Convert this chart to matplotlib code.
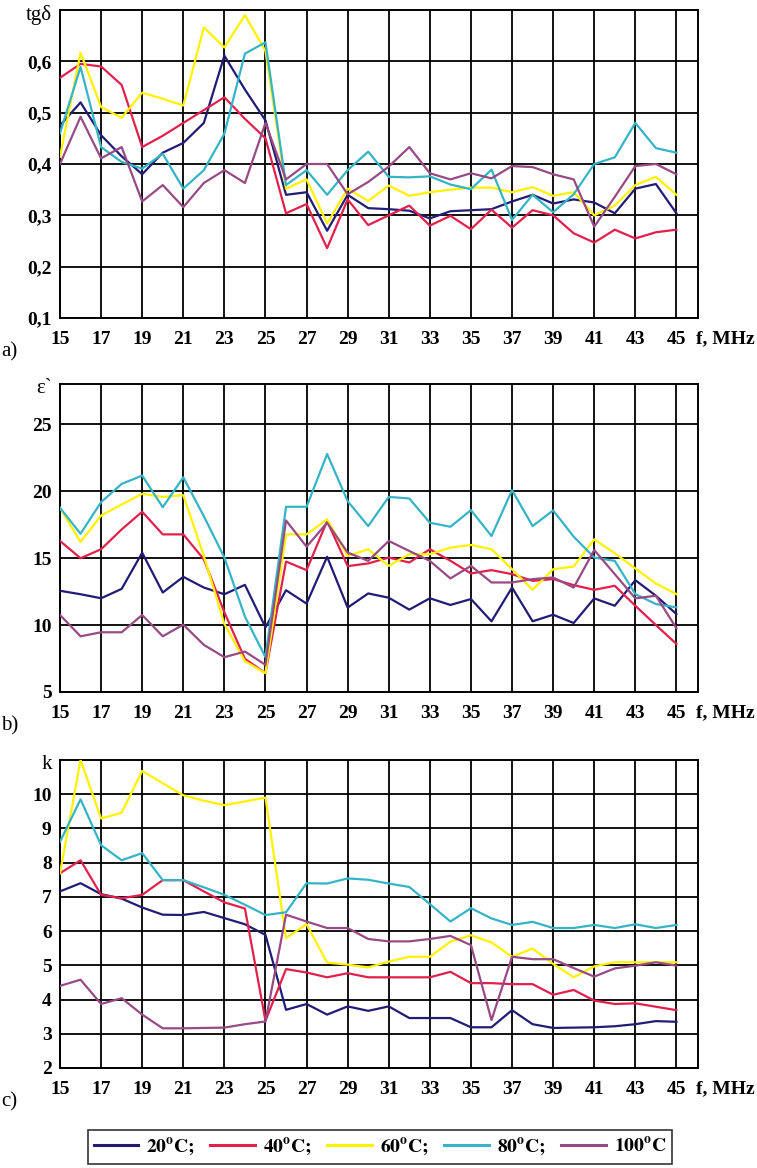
import numpy as np
import matplotlib
matplotlib.use("Agg")
import matplotlib.pyplot as plt
from matplotlib.lines import Line2D

plt.rcParams['font.family'] = ['Liberation Serif', 'DejaVu Serif']
plt.rcParams['mathtext.fontset'] = 'stix'

freq = np.arange(15, 46)
temps = ['20', '40', '60', '80', '100']
colors = ['#221c74', '#e2204c', '#fff200', '#35b4c6', '#974a84']

# a) loss tangent tg(delta)
tgd_20 = [0.475, 0.52, 0.456, 0.415, 0.38, 0.422, 0.441, 0.48, 0.611, 0.545, 0.485,
          0.34, 0.345, 0.27, 0.34, 0.314, 0.312, 0.309, 0.294, 0.308, 0.31, 0.312,
          0.327, 0.34, 0.323, 0.331, 0.325, 0.304, 0.352, 0.361, 0.304]
tgd_40 = [0.568, 0.595, 0.59, 0.554, 0.433, 0.455, 0.48, 0.505, 0.53, 0.488, 0.45,
          0.304, 0.322, 0.236, 0.331, 0.281, 0.30, 0.319, 0.28, 0.299, 0.273, 0.311,
          0.276, 0.31, 0.30, 0.265, 0.247, 0.272, 0.255, 0.267, 0.272]
tgd_60 = [0.414, 0.617, 0.511, 0.49, 0.539, 0.527, 0.514, 0.666, 0.627, 0.69, 0.62,
          0.352, 0.37, 0.284, 0.352, 0.328, 0.358, 0.338, 0.345, 0.35, 0.354, 0.354,
          0.345, 0.355, 0.338, 0.345, 0.30, 0.319, 0.359, 0.375, 0.34]
tgd_80 = [0.46, 0.589, 0.433, 0.404, 0.391, 0.42, 0.352, 0.388, 0.459, 0.615, 0.637,
          0.359, 0.388, 0.34, 0.388, 0.424, 0.375, 0.374, 0.376, 0.36, 0.351, 0.389,
          0.291, 0.34, 0.306, 0.341, 0.40, 0.413, 0.48, 0.431, 0.422]
tgd_100 = [0.40, 0.492, 0.411, 0.433, 0.327, 0.359, 0.316, 0.363, 0.388, 0.363, 0.48,
           0.37, 0.40, 0.40, 0.341, 0.365, 0.395, 0.433, 0.382, 0.37, 0.382, 0.372,
           0.396, 0.394, 0.38, 0.37, 0.278, 0.336, 0.396, 0.40, 0.38]

# b) permittivity eps'
eps_20 = [12.56, 12.3, 12.0, 12.7, 15.4, 12.43, 13.6, 12.8, 12.3, 13.0, 9.83,
          12.6, 11.6, 15.1, 11.3, 12.36, 12.04, 11.15, 12.0, 11.5, 11.94, 10.28,
          12.8, 10.28, 10.77, 10.15, 11.99, 11.44, 13.35, 12.19, 10.82]
eps_40 = [16.28, 14.99, 15.66, 17.14, 18.46, 16.77, 16.77, 14.91, 10.95, 7.48, 6.41,
          14.74, 14.1, 17.76, 14.4, 14.6, 15.04, 14.67, 15.66, 14.8, 13.85, 14.1,
          13.8, 13.3, 13.43, 12.98, 12.63, 12.93, 11.44, 10.0, 8.59]
eps_60 = [18.75, 16.2, 18.18, 19.0, 19.8, 19.57, 19.7, 15.16, 10.08, 7.3, 6.41,
          16.77, 16.77, 17.9, 15.16, 15.66, 14.42, 15.29, 15.29, 15.78, 15.98, 15.66,
          14.17, 12.63, 14.17, 14.37, 16.4, 15.36, 14.22, 13.1, 12.31]
eps_80 = [18.75, 16.82, 19.18, 20.54, 21.16, 18.8, 21.03, 18.13, 15.04, 10.63, 7.6,
          18.83, 18.83, 22.77, 19.25, 17.39, 19.57, 19.45, 17.64, 17.34, 18.58, 16.65,
          20.07, 17.39, 18.56, 16.6, 15.04, 14.79, 12.31, 11.57, 11.32]
eps_100 = [10.75, 9.16, 9.46, 9.46, 10.75, 9.16, 10.03, 8.52, 7.6, 8.02, 7.03,
           17.81, 15.85, 17.64, 15.41, 14.79, 16.28, 15.53, 14.79, 13.48, 14.42, 13.18,
           13.18, 13.43, 13.55, 12.8, 15.6, 13.8, 11.99, 12.19, 9.76]

# c) k
k_20 = [7.16, 7.40, 7.08, 6.95, 6.69, 6.48, 6.47, 6.56, 6.38, 6.2, 5.89,
        3.70, 3.87, 3.56, 3.80, 3.67, 3.80, 3.46, 3.46, 3.46, 3.19, 3.19,
        3.69, 3.28, 3.17, 3.18, 3.19, 3.22, 3.28, 3.37, 3.35]
k_40 = [7.69, 8.07, 7.06, 6.96, 7.06, 7.49, 7.49, 7.16, 6.84, 6.66, 3.38,
        4.89, 4.79, 4.65, 4.77, 4.65, 4.65, 4.65, 4.65, 4.81, 4.48, 4.48,
        4.45, 4.45, 4.14, 4.28, 3.97, 3.87, 3.89, 3.79, 3.69]
k_60 = [7.69, 11.0, 9.29, 9.46, 10.68, 10.32, 9.97, 9.81, 9.68, 9.79, 9.90,
        5.80, 6.20, 5.08, 5.02, 4.94, 5.11, 5.25, 5.25, 5.69, 5.88, 5.67,
        5.25, 5.49, 5.04, 4.65, 4.97, 5.09, 5.09, 5.09, 5.09]
k_80 = [8.61, 9.85, 8.51, 8.07, 8.28, 7.49, 7.49, 7.28, 7.06, 6.77, 6.47,
        6.55, 7.40, 7.39, 7.54, 7.50, 7.39, 7.29, 6.79, 6.28, 6.67, 6.37,
        6.18, 6.27, 6.09, 6.09, 6.18, 6.09, 6.20, 6.09, 6.18]
k_100 = [4.40, 4.58, 3.87, 4.04, 3.56, 3.16, 3.16, 3.17, 3.18, 3.28, 3.36,
         6.48, 6.28, 6.09, 6.09, 5.77, 5.70, 5.70, 5.77, 5.86, 5.59, 3.40,
         5.25, 5.18, 5.18, 4.92, 4.67, 4.91, 4.99, 5.09, 4.99]

panels = [
    ([tgd_20, tgd_40, tgd_60, tgd_80, tgd_100], (0.1, 0.7), [0.1, 0.2, 0.3, 0.4, 0.5, 0.6],
     ['0,1', '0,2', '0,3', '0,4', '0,5', '0,6'], 'tg\u03b4', 'a)'),
    ([eps_20, eps_40, eps_60, eps_80, eps_100], (5, 28), [5, 10, 15, 20, 25],
     ['5', '10', '15', '20', '25'], '\u03b5`', 'b)'),
    ([k_20, k_40, k_60, k_80, k_100], (2, 11), list(range(2, 11)),
     [str(v) for v in range(2, 11)], 'k', 'c)'),
]

W, H = 757, 1168
fig = plt.figure(figsize=(W / 100, H / 100), dpi=100)
tops = [10, 384, 760]
ax_h = 308

xticks = np.arange(15, 46, 2)
for (series, ylim, yticks, ylabels, ylab, tag), top in zip(panels, tops):
    ax = fig.add_axes([60 / W, 1 - (top + ax_h) / H, 638 / W, ax_h / H])
    for s, c in zip(series, colors):
        ax.plot(freq, s, color=c, lw=1.6, zorder=3)
    ax.set_xlim(15, 46.05)
    ax.set_ylim(*ylim)
    ax.set_xticks(xticks)
    ax.set_xticklabels([str(v) for v in xticks], fontweight='bold', fontsize=14)
    ax.set_yticks(yticks)
    ax.set_yticklabels(ylabels, fontweight='bold', fontsize=14)
    ax.tick_params(axis='x', length=0, pad=9)
    ax.tick_params(axis='y', length=0, pad=6)
    ax.grid(True, color='black', lw=1.3, zorder=1)
    for sp in ax.spines.values():
        sp.set_linewidth(1.4)
    ax.text(45.95, -0.068, 'f, MHz', transform=ax.get_xaxis_transform(),
            ha='left', va='center', fontsize=14, fontweight='bold')
    ax.text(-0.012, 0.985, ylab, transform=ax.transAxes, ha='right', va='center', fontsize=15)
    ax.text(-0.092, -0.11, tag, transform=ax.transAxes, ha='left', va='center', fontsize=15)

handles = [Line2D([0], [0], color=c, lw=2.2) for c in colors]
labels = [r'$\mathbf{%s^{o}C;}$' % t for t in temps[:-1]] + [r'$\mathbf{100^{o}C}$']
leg = fig.legend(handles, labels, loc='center', bbox_to_anchor=(0.502, 0.018), ncol=5,
                 frameon=True, fancybox=False, edgecolor='black', fontsize=14,
                 handlelength=2.3, handletextpad=0.4, columnspacing=0.8,
                 borderpad=0.3, borderaxespad=0.2)
leg.get_frame().set_linewidth(1.2)

fig.savefig('out.png', dpi=100)
